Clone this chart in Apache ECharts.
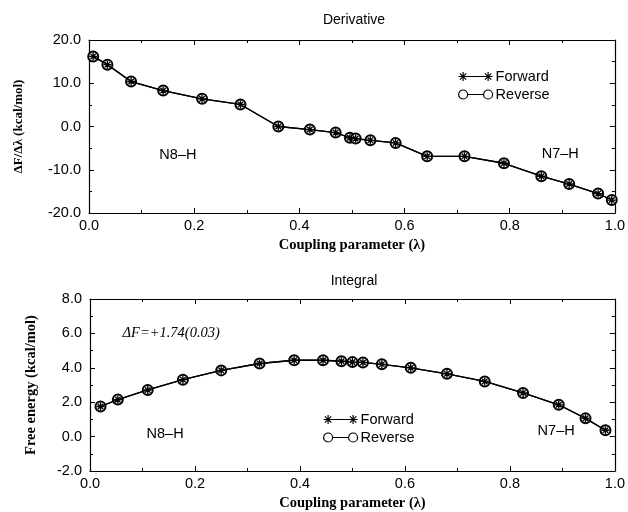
<!DOCTYPE html>
<html><head><meta charset="utf-8">
<script src="https://cdn.jsdelivr.net/npm/echarts@6/dist/echarts.min.js"></script>
<style>html,body{margin:0;padding:0;background:#fff}#c{width:628px;height:512px}</style>
</head><body><div id="c"></div>
<script>
// ---- Data: Derivative panel ----
const derivLambda  = [0.008, 0.035, 0.080, 0.141, 0.215, 0.288, 0.360, 0.420, 0.469, 0.496, 0.507, 0.535, 0.583, 0.643, 0.714, 0.789, 0.860, 0.913, 0.968, 0.994];
const derivForward = [16.2, 14.3, 10.4, 8.3, 6.4, 5.1, 0.0, -0.7, -1.4, -2.6, -2.8, -3.2, -3.8, -6.9, -6.9, -8.5, -11.5, -13.3, -15.5, -17.0];
const derivReverse = [16.2, 14.3, 10.4, 8.3, 6.4, 5.1, 0.0, -0.7, -1.4, -2.6, -2.8, -3.2, -3.8, -6.9, -6.9, -8.5, -11.5, -13.3, -15.5, -17.0];
// ---- Data: Integral panel ----
const integLambda  = [0.020, 0.053, 0.110, 0.177, 0.250, 0.323, 0.389, 0.444, 0.479, 0.500, 0.520, 0.556, 0.611, 0.680, 0.752, 0.825, 0.893, 0.944, 0.982];
const integForward = [1.75, 2.15, 2.71, 3.31, 3.85, 4.25, 4.44, 4.44, 4.38, 4.33, 4.31, 4.20, 4.00, 3.65, 3.21, 2.54, 1.85, 1.06, 0.37];
const integReverse = [1.75, 2.15, 2.71, 3.31, 3.85, 4.25, 4.44, 4.44, 4.38, 4.33, 4.31, 4.20, 4.00, 3.65, 3.21, 2.54, 1.85, 1.06, 0.37];
// ---- Axis settings ----
const xRange = [0, 1, 0.2];
const yRangeDeriv = [-20, 20, 10];
const yRangeInteg = [-2, 8, 2];
const seriesNames = ['Forward', 'Reverse'];
const titles = ['Derivative', 'Integral'];
const xName = 'Coupling parameter (\u03bb)';
const yNames = ['\u0394F/\u0394\u03bb (kcal/mol)', 'Free energy (kcal/mol)'];
// annotations: [grid, lambda, value, text, align]
const annotations = [
  [0, 0.169, -6.7, 'N8\u2013H', 'center'],
  [0, 0.896, -6.4, 'N7\u2013H', 'center'],
  [1, 0.143, 0.17, 'N8\u2013H', 'center'],
  [1, 0.888, 0.3, 'N7\u2013H', 'center']
];
const deltaF = [1, 0.062, 6.0, '\u0394F=+1.74(0.03)'];

const zip = (a, b) => a.map((v, i) => [v, b[i]]);
const sans = 'Liberation Sans, Arial, Helvetica, sans-serif';
const serif = 'Liberation Serif, Times New Roman, serif';
const black = '#000';

const starPath = 'path://M0,5L10,5M5,0L5,10M1.5,1.5L8.5,8.5M1.5,8.5L8.5,1.5';
const legendStar = 'path://M0,4.5L9,4.5M4.5,0L4.5,9M1.3,1.3L7.7,7.7M1.3,7.7L7.7,1.3M4.5,4.5L29.5,4.5M25,4.5L34,4.5M29.5,0L29.5,9M26.3,1.3L32.7,7.7M26.3,7.7L32.7,1.3';
const legendCircle = 'path://M0,4.5A4.5,4.5 0 1 1 9,4.5A4.5,4.5 0 1 1 0,4.5M9,4.5L25,4.5M25,4.5A4.5,4.5 0 1 1 34,4.5A4.5,4.5 0 1 1 25,4.5';

function xAxes(gi) {
  const base = {
    type: 'value', gridIndex: gi, min: xRange[0], max: xRange[1], interval: xRange[2],
    axisLine: {show: true, onZero: false, lineStyle: {color: black, width: 1.2}},
    axisTick: {show: true, inside: true, length: 5, lineStyle: {color: black, width: 1}},
    minorTick: {show: true, splitNumber: 2, length: 3, lineStyle: {color: black, width: 1}},
    splitLine: {show: false}, minorSplitLine: {show: false}
  };
  return [
    Object.assign({}, base, {
      position: 'bottom',
      axisLabel: {color: black, fontFamily: sans, fontSize: 14.5, margin: 5, formatter: v => v.toFixed(1)},
      name: xName, nameLocation: 'middle', nameGap: 25,
      nameTextStyle: {color: black, fontFamily: serif, fontWeight: 'bold', fontSize: 14.5}
    }),
    Object.assign({}, base, {position: 'top', axisLabel: {show: false}})
  ];
}
function yAxes(gi, r, name, gap, fs) {
  const base = {
    type: 'value', gridIndex: gi, min: r[0], max: r[1], interval: r[2],
    axisLine: {show: true, onZero: false, lineStyle: {color: black, width: 1.2}},
    axisTick: {show: true, inside: true, length: 5, lineStyle: {color: black, width: 1}},
    minorTick: {show: true, splitNumber: 2, length: 3, lineStyle: {color: black, width: 1}},
    splitLine: {show: false}, minorSplitLine: {show: false}
  };
  return [
    Object.assign({}, base, {
      position: 'left',
      axisLabel: {color: black, fontFamily: sans, fontSize: 14.5, margin: 8, formatter: v => v.toFixed(1)},
      name: name, nameLocation: 'middle', nameGap: gap, nameRotate: 90,
      nameTextStyle: {color: black, fontFamily: serif, fontWeight: 'bold', fontSize: fs}
    }),
    Object.assign({}, base, {position: 'right', axisLabel: {show: false}})
  ];
}
function makeSeries(name, data, xi, yi) {
  const isF = name === 'Forward';
  return {
    name: name, type: 'line', xAxisIndex: xi, yAxisIndex: yi, data: data,
    symbol: isF ? starPath : 'emptyCircle', symbolSize: isF ? 8 : 10,
    showSymbol: true, clip: false, animation: false, z: isF ? 4 : 3,
    lineStyle: {color: black, width: 1.3},
    itemStyle: {color: black, borderColor: black, borderWidth: 1.3}
  };
}
function legend(left, top) {
  return {
    orient: 'vertical', left: left, top: top, itemWidth: 34, itemHeight: 9, itemGap: 3,
    padding: 0, selectedMode: false,
    textStyle: {color: black, fontFamily: sans, fontSize: 14.5, padding: [0, 0, 0, -2]},
    itemStyle: {color: 'rgba(0,0,0,0)', borderColor: black, borderWidth: 1.2},
    data: [{name: seriesNames[0], icon: legendStar}, {name: seriesNames[1], icon: legendCircle}]
  };
}

const chart = echarts.init(document.getElementById('c'), null, {renderer: 'canvas'});
const option = {
  backgroundColor: '#fff',
  animation: false,
  title: [
    {text: titles[0], left: 354, top: 13, textAlign: 'center', padding: 0,
     textStyle: {color: black, fontFamily: sans, fontSize: 14, fontWeight: 'normal'}},
    {text: titles[1], left: 354, top: 274, textAlign: 'center', padding: 0,
     textStyle: {color: black, fontFamily: sans, fontSize: 14, fontWeight: 'normal'}}
  ],
  grid: [
    {left: 89, right: 10, top: 40, height: 173},
    {left: 90, right: 11, top: 299, height: 174}
  ],
  xAxis: xAxes(0).concat(xAxes(1)),
  yAxis: yAxes(0, yRangeDeriv, yNames[0], 64, 13).concat(yAxes(1, yRangeInteg, yNames[1], 51, 14.5)),
  legend: [legend(458, 69), legend(323, 412)],
  series: [
    makeSeries('Reverse', zip(derivLambda, derivReverse), 0, 0),
    makeSeries('Forward', zip(derivLambda, derivForward), 0, 0),
    makeSeries('Reverse', zip(integLambda, integReverse), 2, 2),
    makeSeries('Forward', zip(integLambda, integForward), 2, 2)
  ]
};
chart.setOption(option);

const g = [];
annotations.forEach(a => {
  const p = chart.convertToPixel({gridIndex: a[0]}, [a[1], a[2]]);
  g.push({type: 'text', x: p[0], y: p[1], style: {text: a[3], fill: black, font: '14.5px ' + sans, align: a[4], verticalAlign: 'middle'}});
});
const pd = chart.convertToPixel({gridIndex: deltaF[0]}, [deltaF[1], deltaF[2]]);
g.push({type: 'text', x: pd[0], y: pd[1], style: {text: deltaF[3], fill: black, font: 'italic 14.5px ' + serif, align: 'left', verticalAlign: 'middle'}});
chart.setOption({graphic: g});
</script>
</body></html>
